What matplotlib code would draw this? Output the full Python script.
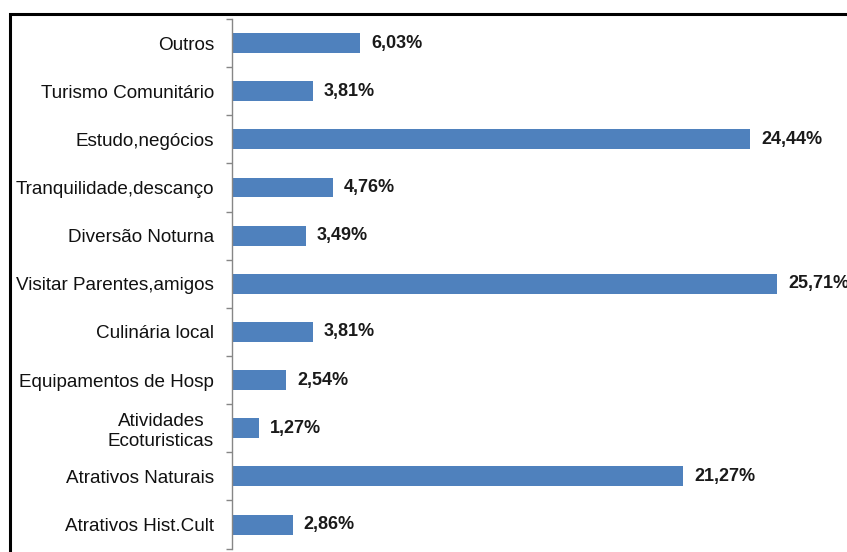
import matplotlib
matplotlib.use("Agg")
import matplotlib.pyplot as plt
from matplotlib.patches import Rectangle

categories = ["Outros", "Turismo Comunitário", "Estudo,negócios", "Tranquilidade,descanço",
              "Diversão Noturna", "Visitar Parentes,amigos", "Culinária local",
              "Equipamentos de Hosp", "Atividades\nEcoturisticas", "Atrativos Naturais",
              "Atrativos Hist.Cult"]
values = [6.03, 3.81, 24.44, 4.76, 3.49, 25.71, 3.81, 2.54, 1.27, 21.27, 2.86]
value_labels = ["6,03%", "3,81%", "24,44%", "4,76%", "3,49%", "25,71%", "3,81%",
                "2,54%", "1,27%", "21,27%", "2,86%"]

plt.rcParams['font.family'] = ['Liberation Sans', 'DejaVu Sans']

W, H = 847, 552
fig = plt.figure(figsize=(W / 100, H / 100), dpi=100)
fig.patch.set_facecolor("white")

left_px, right_px, top_px, bottom_px = 232, 847, 19, 548.6
ax = fig.add_axes([left_px / W, 1 - bottom_px / H, (right_px - left_px) / W, (bottom_px - top_px) / H])

n = len(categories)
ypos = list(range(n))
ax.barh(ypos, values, height=0.415, color="#4F81BD", edgecolor="none")
ax.set_ylim(n - 0.5, -0.5)
ax.set_xlim(0, 29.0)

for y, v, lab in zip(ypos, values, value_labels):
    ax.annotate(lab, (v, y), xytext=(8, 0), textcoords="offset points",
                ha="left", va="center", fontsize=13, fontweight="bold",
                color="#1a1a1a", clip_on=False, annotation_clip=False)

ax.set_yticks(ypos)
ax.set_yticklabels(categories, fontsize=13.6, color="#111111")
for t in ax.get_yticklabels():
    t.set_multialignment("center")
    t.set_linespacing(1.25)
ax.tick_params(axis="y", which="major", length=0, pad=13)
ax.set_yticks([i - 0.5 for i in range(n + 1)], minor=True)
ax.tick_params(axis="y", which="minor", length=4, width=1, color="#868686", direction="out")

ax.set_xticks([])
for s in ["top", "right", "bottom"]:
    ax.spines[s].set_visible(False)
ax.spines["left"].set_color("#868686")
ax.spines["left"].set_linewidth(1)

# outer border (partly cut off at right and bottom)
fig.patches.append(Rectangle((10 / W, -0.2), 1.5, 1.2 - 13.5 / H, transform=fig.transFigure,
                             fill=False, edgecolor="black", linewidth=2.2, clip_on=False))

fig.savefig("out.png", dpi=100, facecolor="white")
